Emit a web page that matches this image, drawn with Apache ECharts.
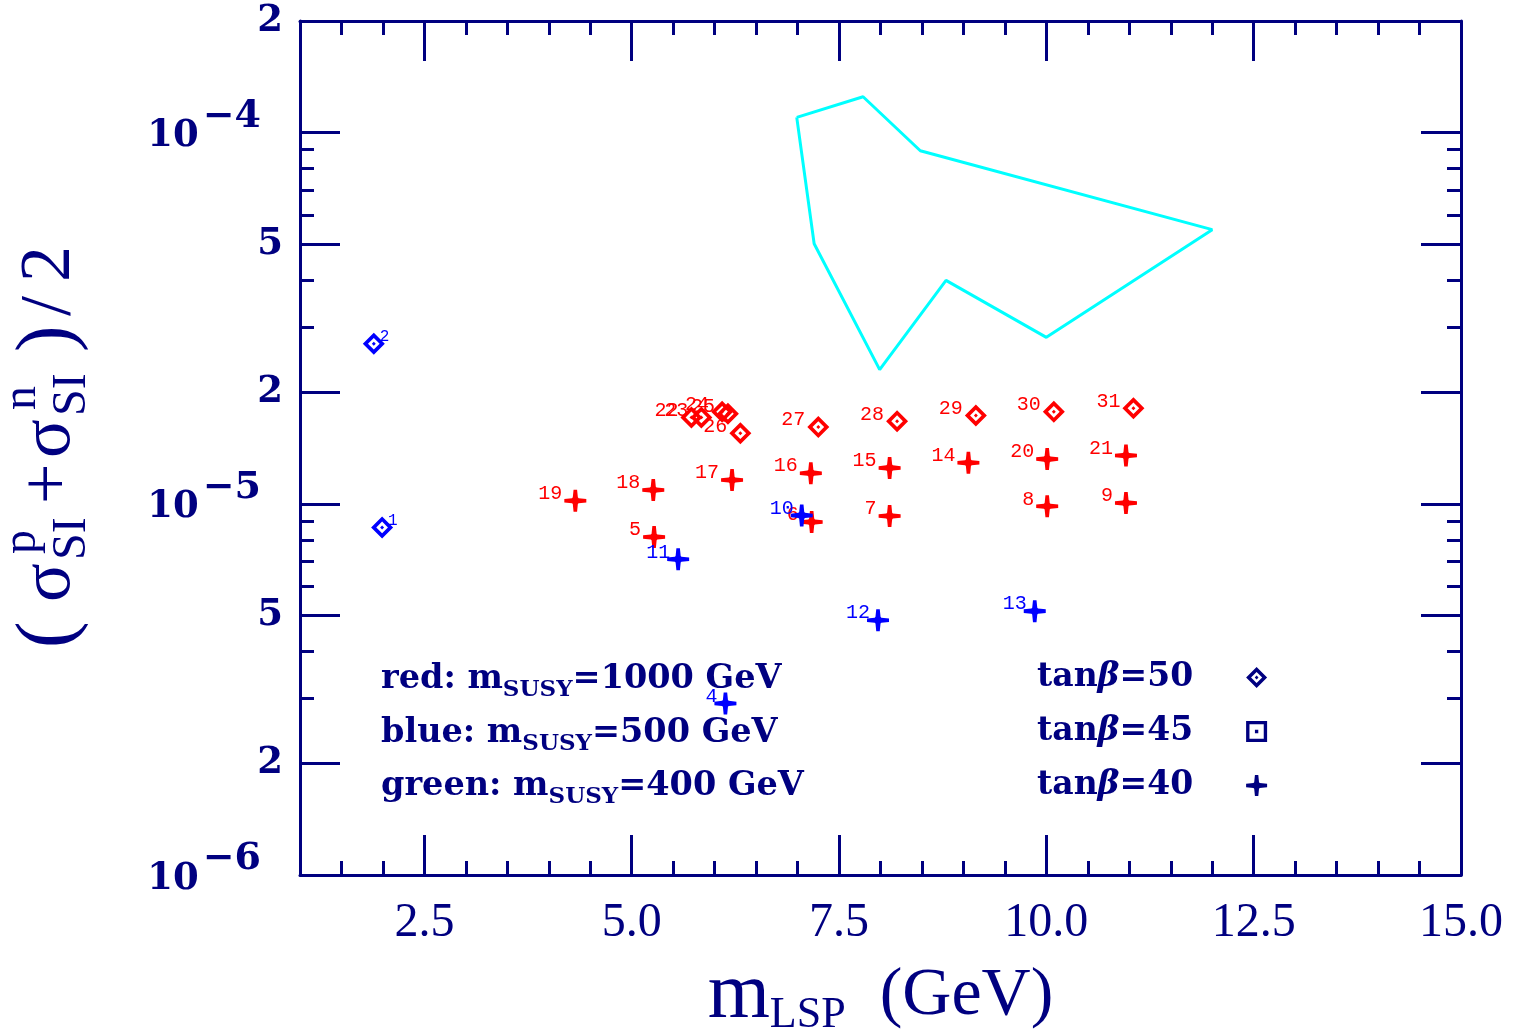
<!DOCTYPE html>
<html><head><meta charset="utf-8">
<script src="https://cdn.jsdelivr.net/npm/echarts@6/dist/echarts.min.js"></script>
<style>html,body{margin:0;padding:0;background:#fff}#c{width:1514px;height:1029px}</style>
</head><body><div id="c"></div>
<script>
// ---------- data ----------
const xTickLabels = [2.5, 5.0, 7.5, 10.0, 12.5, 15.0];
const yTickLabels = [1e-6, 2e-6, 5e-6, 1e-5, 2e-5, 5e-5, 1e-4, 2e-4];
const yMinorTicks = [3e-6, 4e-6, 6e-6, 7e-6, 8e-6, 9e-6, 3e-5, 4e-5, 6e-5, 7e-5, 8e-5, 9e-5];

// red: mSUSY = 1000 GeV, tanβ = 50 (diamonds)
const redDiamondLabels = ['22', '23', '24', '25', '26', '27', '28', '29', '30', '31'];
const redDiamondX = [5.72, 5.84, 6.09, 6.16, 6.31, 7.25, 8.20, 9.15, 10.09, 11.05];
const redDiamondY = [1.71e-5, 1.71e-5, 1.77e-5, 1.75e-5, 1.55e-5, 1.61e-5, 1.67e-5, 1.73e-5, 1.77e-5, 1.81e-5];

// blue: mSUSY = 500 GeV, tanβ = 50 (diamonds)
const blueDiamondLabels = ['2', '1'];
const blueDiamondX = [1.89, 1.99];
const blueDiamondY = [2.70e-5, 8.64e-6];

// red: mSUSY = 1000 GeV, tanβ = 40 (stars)
const redStarLabels = ['19', '18', '5', '17', '16', '6', '15', '7', '14', '20', '8', '21', '9'];
const redStarX = [4.32, 5.26, 5.27, 6.21, 7.16, 7.17, 8.11, 8.11, 9.06, 10.01, 10.01, 10.96, 10.96];
const redStarY = [1.02e-5, 1.09e-5, 8.14e-6, 1.16e-5, 1.21e-5, 8.94e-6, 1.25e-5, 9.27e-6, 1.29e-5, 1.32e-5, 9.85e-6, 1.35e-5, 1.005e-5];

// blue: mSUSY = 500 GeV, tanβ = 40 (stars)
const blueStarLabels = ['11', '10', '12', '13', '4'];
const blueStarX = [5.56, 7.05, 7.97, 9.86, 6.13];
const blueStarY = [7.09e-6, 9.31e-6, 4.86e-6, 5.14e-6, 2.90e-6];

// cyan region outline
const regionX = [6.99, 7.79, 8.48, 12.0, 10.0, 8.79, 7.99, 7.20];
const regionY = [1.10e-4, 1.25e-4, 8.94e-5, 5.48e-5, 2.81e-5, 4.00e-5, 2.30e-5, 5.02e-5];

// ---------- styling ----------
const NAVY = '#000080';
const RED = '#ff0000';
const BLUE = '#0000ff';
const CYAN = '#00ffff';
const DIAMOND = 'path://M0,-10L10,0L0,10L-10,0Z M0,-5.3L-5.3,0L0,5.3L5.3,0Z M0,-1.8L1.8,0L0,1.8L-1.8,0Z';
const SQUARE = 'path://M-10,-10L10,-10L10,10L-10,10Z M-6.8,-6.8L-6.8,6.8L6.8,6.8L6.8,-6.8Z M-1.6,-1.6L1.6,-1.6L1.6,1.6L-1.6,1.6Z';
const STAR = 'path://M-1.6,-10L1.6,-10L2.3,-3L3,-2.3L10,-1.6L10,1.6L3,2.3L2.3,3L1.6,10L-1.6,10L-2.3,3L-3,2.3L-10,1.6L-10,-1.6L-3,-2.3L-2.3,-3Z M0,-4.2L4.2,0L0,4.2L-4.2,0Z';

const zip = (xs, ys, ls) => xs.map((x, i) => ls ? [x, ys[i], ls[i]] : [x, ys[i]]);
const regionData = zip(regionX, regionY);
regionData.push(regionData[0]);

function pointLabel(color, pos, dist, size) {
  return {
    show: true, position: pos, distance: dist, offset: [0, -7],
    formatter: p => p.value[2],
    color: color, fontFamily: 'Liberation Mono', fontSize: size
  };
}

const xAxisBase = { type: 'value', min: 1, max: 15, splitLine: { show: false }, gridIndex: 0 };
const yAxisBase = { type: 'log', logBase: 10, min: 1e-6, max: 2e-4, splitLine: { show: false }, gridIndex: 0 };
const tickLine = { color: NAVY, width: 3 };

function yLabelFmt(v) {
  const e = Math.log10(v);
  const r = Math.round(e);
  if (Math.abs(e - r) < 1e-6) return '{b|10}{sup|\u2212' + (-r) + '}';
  return '{m|' + Math.round(v / Math.pow(10, Math.floor(e + 1e-9))) + '}';
}

const legendRich = (size) => ({
  a: { fontFamily: 'DejaVu Serif', fontWeight: 'bold', fontSize: size, fill: NAVY },
  s: { fontFamily: 'DejaVu Serif', fontWeight: 'bold', fontSize: 23, fill: NAVY, padding: [22, 0, 0, 0] }
});

const titleFont = (s) => s + 'px "Liberation Serif"';

const chart = echarts.init(document.getElementById('c'), null, { renderer: 'canvas' });
chart.setOption({
  animation: false,
  backgroundColor: '#ffffff',
  grid: { left: 300, top: 21, right: 53, bottom: 154, containLabel: false, outerBoundsMode: 'none' },
  xAxis: [
    Object.assign({}, xAxisBase, {
      position: 'bottom',
      axisLine: { show: true, lineStyle: tickLine },
      axisTick: { show: true, inside: true, length: 40, lineStyle: tickLine, customValues: xTickLabels },
      axisLabel: { show: true, customValues: xTickLabels, margin: 24, formatter: v => v.toFixed(1),
        color: NAVY, fontFamily: 'Liberation Serif', fontSize: 48 },
      name: '{m|m}{s|LSP}{g|  (GeV)}', nameLocation: 'middle', nameGap: 80,
      nameTextStyle: { color: NAVY, fontFamily: 'Liberation Serif', rich: {
        m: { fontSize: 80, color: NAVY, fontFamily: 'Liberation Serif' },
        s: { fontSize: 44, color: NAVY, fontFamily: 'Liberation Serif', padding: [38, 0, 0, 0] },
        g: { fontSize: 68, color: NAVY, fontFamily: 'Liberation Serif' }
      } }
    }),
    Object.assign({}, xAxisBase, {
      position: 'bottom', interval: 0.5,
      axisLine: { show: false },
      axisTick: { show: true, inside: true, length: 14, lineStyle: tickLine },
      axisLabel: { show: false }
    }),
    Object.assign({}, xAxisBase, {
      position: 'top',
      axisLine: { show: true, lineStyle: tickLine },
      axisTick: { show: true, inside: true, length: 40, lineStyle: tickLine, customValues: xTickLabels },
      axisLabel: { show: false }
    }),
    Object.assign({}, xAxisBase, {
      position: 'top', interval: 0.5,
      axisLine: { show: false },
      axisTick: { show: true, inside: true, length: 14, lineStyle: tickLine },
      axisLabel: { show: false }
    })
  ],
  yAxis: [
    Object.assign({}, yAxisBase, {
      position: 'left',
      axisLine: { show: true, lineStyle: tickLine },
      axisTick: { show: true, inside: true, length: 40, lineStyle: tickLine, customValues: yTickLabels },
      axisLabel: { show: true, customValues: yTickLabels, margin: 17, formatter: yLabelFmt,
        rich: {
          b: { fontFamily: 'DejaVu Serif', fontWeight: 'bold', fontSize: 37, color: NAVY, padding: [8, 0, 0, 0] },
          sup: { fontFamily: 'DejaVu Serif', fontWeight: 'bold', fontSize: 38, color: NAVY, padding: [0, 22, 32, 4] },
          m: { fontFamily: 'DejaVu Serif', fontWeight: 'bold', fontSize: 37, color: NAVY }
        } }
    }),
    Object.assign({}, yAxisBase, {
      position: 'left',
      axisLine: { show: false },
      axisTick: { show: true, inside: true, length: 14, lineStyle: tickLine, customValues: yMinorTicks },
      axisLabel: { show: false }
    }),
    Object.assign({}, yAxisBase, {
      position: 'right',
      axisLine: { show: true, lineStyle: tickLine },
      axisTick: { show: true, inside: true, length: 40, lineStyle: tickLine, customValues: yTickLabels },
      axisLabel: { show: false }
    }),
    Object.assign({}, yAxisBase, {
      position: 'right',
      axisLine: { show: false },
      axisTick: { show: true, inside: true, length: 14, lineStyle: tickLine, customValues: yMinorTicks },
      axisLabel: { show: false }
    })
  ],
  legend: {
    show: true, orient: 'vertical', left: 1032, top: 656, align: 'right',
    itemGap: 21, itemWidth: 21, itemHeight: 21, selectedMode: false,
    data: [
      { name: 'tanβ=50', icon: DIAMOND, itemStyle: { color: NAVY, opacity: 1 } },
      { name: 'tanβ=45', icon: SQUARE, itemStyle: { color: NAVY, opacity: 1 } },
      { name: 'tanβ=40', icon: STAR, itemStyle: { color: NAVY, opacity: 1 } }
    ],
    formatter: n => '{t|tan}{b|β}{e|' + n.slice(4) + '}',
    textStyle: { color: NAVY, rich: {
      t: { fontFamily: 'DejaVu Serif', fontWeight: 'bold', fontSize: 33, color: NAVY },
      b: { fontFamily: 'DejaVu Serif', fontWeight: 'bold', fontStyle: 'italic', fontSize: 33, color: NAVY },
      e: { fontFamily: 'DejaVu Serif', fontWeight: 'bold', fontSize: 33, color: NAVY, padding: [0, 48, 0, 0] }
    } }
  },
  graphic: [
    { type: 'group', x: 50, y: 650, rotation: Math.PI / 2, silent: true, children: [
      { type: 'text', x: 2, y: 0, style: { text: '(', font: titleFont(80), fill: NAVY, verticalAlign: 'middle' } },
      { type: 'text', x: 48, y: 0, style: { text: 'σ', font: titleFont(72), fill: NAVY, verticalAlign: 'middle' } },
      { type: 'text', x: 96, y: -28, style: { text: 'p', font: titleFont(48), fill: NAVY, verticalAlign: 'middle' } },
      { type: 'text', x: 90, y: 22, style: { text: 'SI', font: titleFont(48), fill: NAVY, verticalAlign: 'middle' } },
      { type: 'text', x: 146, y: 0, style: { text: '+', font: titleFont(72), fill: NAVY, verticalAlign: 'middle' } },
      { type: 'text', x: 192, y: 0, style: { text: 'σ', font: titleFont(72), fill: NAVY, verticalAlign: 'middle' } },
      { type: 'text', x: 240, y: -28, style: { text: 'n', font: titleFont(48), fill: NAVY, verticalAlign: 'middle' } },
      { type: 'text', x: 234, y: 22, style: { text: 'SI', font: titleFont(48), fill: NAVY, verticalAlign: 'middle' } },
      { type: 'text', x: 298, y: 0, style: { text: ')', font: titleFont(80), fill: NAVY, verticalAlign: 'middle' } },
      { type: 'text', x: 334, y: 0, style: { text: '/', font: titleFont(72), fill: NAVY, verticalAlign: 'middle' } },
      { type: 'text', x: 368, y: 0, style: { text: '2', font: titleFont(72), fill: NAVY, verticalAlign: 'middle' } }
    ] },
    { type: 'text', left: 381, top: 662, silent: true, style: {
      text: '{a|red: m}{s|SUSY}{a|=1000 GeV}', rich: legendRich(33.5) } },
    { type: 'text', left: 381, top: 716, silent: true, style: {
      text: '{a|blue: m}{s|SUSY}{a|=500 GeV}', rich: legendRich(33.5) } },
    { type: 'text', left: 381, top: 769, silent: true, style: {
      text: '{a|green: m}{s|SUSY}{a|=400 GeV}', rich: legendRich(33.5) } }
  ],
  series: [
    { name: 'region', type: 'line', xAxisIndex: 0, yAxisIndex: 0, data: regionData,
      showSymbol: false, symbol: 'none', lineStyle: { color: CYAN, width: 3 }, itemStyle: { color: CYAN }, z: 1 },
    { name: 'tanβ=50', type: 'scatter', xAxisIndex: 0, yAxisIndex: 0, data: zip(redDiamondX, redDiamondY, redDiamondLabels),
      symbol: DIAMOND, symbolSize: 22, itemStyle: { color: RED, opacity: 1 }, label: pointLabel(RED, 'left', 2, 20), z: 3 },
    { name: 'tanβ=50', type: 'scatter', xAxisIndex: 0, yAxisIndex: 0, data: zip(blueDiamondX, blueDiamondY, blueDiamondLabels),
      symbol: DIAMOND, symbolSize: 22, itemStyle: { color: BLUE, opacity: 1 }, label: pointLabel(BLUE, 'right', -5, 16), z: 3 },
    { name: 'tanβ=45', type: 'scatter', xAxisIndex: 0, yAxisIndex: 0, data: [],
      symbol: SQUARE, symbolSize: 20, itemStyle: { color: NAVY, opacity: 1 } },
    { name: 'tanβ=40', type: 'scatter', xAxisIndex: 0, yAxisIndex: 0, data: zip(redStarX, redStarY, redStarLabels),
      symbol: STAR, symbolSize: 22, itemStyle: { color: RED, opacity: 1 }, label: pointLabel(RED, 'left', 2, 20), z: 3 },
    { name: 'tanβ=40', type: 'scatter', xAxisIndex: 0, yAxisIndex: 0, data: zip(blueStarX, blueStarY, blueStarLabels),
      symbol: STAR, symbolSize: 22, itemStyle: { color: BLUE, opacity: 1 }, label: pointLabel(BLUE, 'left', -3, 20), z: 4 }
  ]
});
</script></body></html>
